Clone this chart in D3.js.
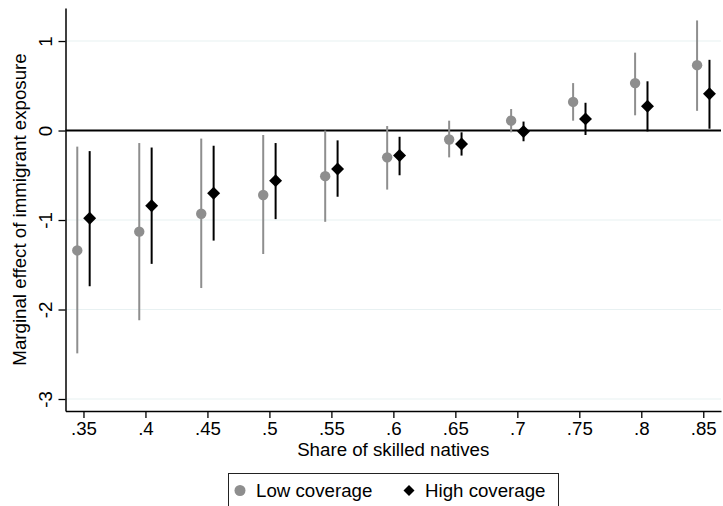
<!DOCTYPE html>
<html>
<head>
<meta charset="utf-8">
<script src="https://cdn.jsdelivr.net/npm/d3@7"></script>
<style>
  body { margin: 0; background: #fff; }
  text { font-family: 'Liberation Sans', Arial, sans-serif; fill: #000; }
</style>
</head>
<body>
<script>
var width = 723
var height = 506

var shares = [.35, .4, .45, .5, .55, .6, .65, .7, .75, .8, .85]
var xTickLabels = ['.35', '.4', '.45', '.5', '.55', '.6', '.65', '.7', '.75', '.8', '.85']
var yTicks = [1, 0, -1, -2, -3]
var yTickLabels = ['1', '0', '-1', '-2', '-3']

// low coverage: estimate and 95% interval
var lowEst = [-1.34, -1.13, -0.93, -0.72, -0.51, -0.30, -0.10, 0.11, 0.32, 0.53, 0.73]
var lowLo  = [-2.49, -2.12, -1.76, -1.38, -1.02, -0.66, -0.30, -0.02, 0.11, 0.17, 0.22]
var lowHi  = [-0.18, -0.14, -0.09, -0.05, 0.00, 0.05, 0.11, 0.24, 0.53, 0.87, 1.23]

// high coverage
var highEst = [-0.98, -0.84, -0.70, -0.56, -0.43, -0.28, -0.15, -0.01, 0.13, 0.27, 0.41]
var highLo  = [-1.74, -1.49, -1.23, -0.99, -0.74, -0.50, -0.28, -0.12, -0.05, -0.01, 0.02]
var highHi  = [-0.23, -0.19, -0.17, -0.14, -0.11, -0.07, -0.02, 0.10, 0.31, 0.55, 0.79]

var series = [
  {name: 'Low coverage', est: lowEst, lo: lowLo, hi: lowHi, shift: -0.005, color: '#8e8e8e', shape: 'circle'},
  {name: 'High coverage', est: highEst, lo: highLo, hi: highHi, shift: 0.005, color: '#000', shape: 'diamond'}
]

var plot = {left: 65.5, right: 721, top: 8, bottom: 411}
var fontSize = 18.7

var xScale = d3.scaleLinear()
               .domain([0.3355, 0.8643])
               .range([plot.left, plot.right])

var yScale = d3.scaleLinear()
               .domain([-3.134, 1.369])
               .range([plot.bottom, plot.top])

var svg = d3.select('body').append('svg')
            .attr('width', width)
            .attr('height', height)

svg.append('rect').attr('width', width).attr('height', height).attr('fill', '#fff')

// gridlines
svg.append('g').selectAll('line')
   .data(yTicks.filter(d => d !== 0))
   .enter().append('line')
   .attr('x1', plot.left).attr('x2', plot.right)
   .attr('y1', d => yScale(d)).attr('y2', d => yScale(d))
   .attr('stroke', '#e8f1f2')
   .attr('stroke-width', 1.2)

// zero reference line
svg.append('line')
   .attr('x1', plot.left).attr('x2', plot.right)
   .attr('y1', yScale(0)).attr('y2', yScale(0))
   .attr('stroke', '#000')
   .attr('stroke-width', 2)

// axes
var xAxis = d3.axisBottom(xScale)
              .tickValues(shares)
              .tickFormat((d, i) => xTickLabels[i])
              .tickSize(7)
              .tickSizeOuter(0)
              .tickPadding(4)

var yAxis = d3.axisLeft(yScale)
              .tickValues(yTicks)
              .tickFormat((d, i) => yTickLabels[i])
              .tickSize(7)
              .tickSizeOuter(0)

var gx = svg.append('g')
   .attr('transform', 'translate(' + [0, plot.bottom] + ')')
   .call(xAxis)
gx.select('.domain').attr('stroke-width', 1.5)
gx.selectAll('.tick line').attr('stroke-width', 1.3)
gx.selectAll('.tick text')
  .attr('font-size', fontSize)
  .attr('font-family', "'Liberation Sans', Arial, sans-serif")

var gy = svg.append('g')
   .attr('transform', 'translate(' + [plot.left, 0] + ')')
   .call(yAxis)
gy.select('.domain').attr('stroke-width', 1.5)
gy.selectAll('.tick line').attr('stroke-width', 1.3)
gy.selectAll('.tick text')
  .attr('font-size', fontSize)
  .attr('font-family', "'Liberation Sans', Arial, sans-serif")
  .attr('x', null).attr('dy', null)
  .attr('text-anchor', 'middle')
  .attr('transform', 'translate(-20,0) rotate(-90)')
  .attr('y', 0)
  .attr('dy', '0.35em')

// axis titles
svg.append('text')
   .attr('x', (plot.left + plot.right) / 2)
   .attr('y', 456)
   .attr('text-anchor', 'middle')
   .attr('font-size', fontSize)
   .text('Share of skilled natives')

svg.append('text')
   .attr('transform', 'translate(' + [26, (plot.top + plot.bottom) / 2] + ') rotate(-90)')
   .attr('text-anchor', 'middle')
   .attr('font-size', fontSize)
   .text('Marginal effect of immigrant exposure')

var diamond = d3.symbol().type(d3.symbolSquare)

series.forEach(s => {
  var g = svg.append('g')
  g.selectAll('line.ci')
   .data(shares)
   .enter().append('line')
   .attr('class', 'ci')
   .attr('x1', d => xScale(d + s.shift)).attr('x2', d => xScale(d + s.shift))
   .attr('y1', (d, i) => yScale(s.lo[i])).attr('y2', (d, i) => yScale(s.hi[i]))
   .attr('stroke', s.color)
   .attr('stroke-width', 2)

  if (s.shape === 'circle') {
    g.selectAll('circle')
     .data(shares)
     .enter().append('circle')
     .attr('cx', d => xScale(d + s.shift))
     .attr('cy', (d, i) => yScale(s.est[i]))
     .attr('r', 5.2)
     .attr('fill', s.color)
  } else {
    g.selectAll('path')
     .data(shares)
     .enter().append('path')
     .attr('d', diamond.size(84))
     .attr('transform', (d, i) => 'translate(' + [xScale(d + s.shift), yScale(s.est[i])] + ') rotate(45)')
     .attr('fill', s.color)
  }
})

// legend
var legend = svg.append('g')
legend.append('rect')
      .attr('x', 228.5).attr('y', 473.5)
      .attr('width', 330).attr('height', 50)
      .attr('fill', '#fff')
      .attr('stroke', '#222')
      .attr('stroke-width', 1)

legend.append('circle')
      .attr('cx', 240).attr('cy', 490.5).attr('r', 5.5)
      .attr('fill', series[0].color)
legend.append('text')
      .attr('x', 256).attr('y', 497)
      .attr('font-size', fontSize)
      .text(series[0].name)

legend.append('path')
      .attr('d', diamond.size(60))
      .attr('transform', 'translate(409,490.5) rotate(45)')
      .attr('fill', series[1].color)
legend.append('text')
      .attr('x', 425).attr('y', 497)
      .attr('font-size', fontSize)
      .text(series[1].name)
</script>
</body>
</html>
